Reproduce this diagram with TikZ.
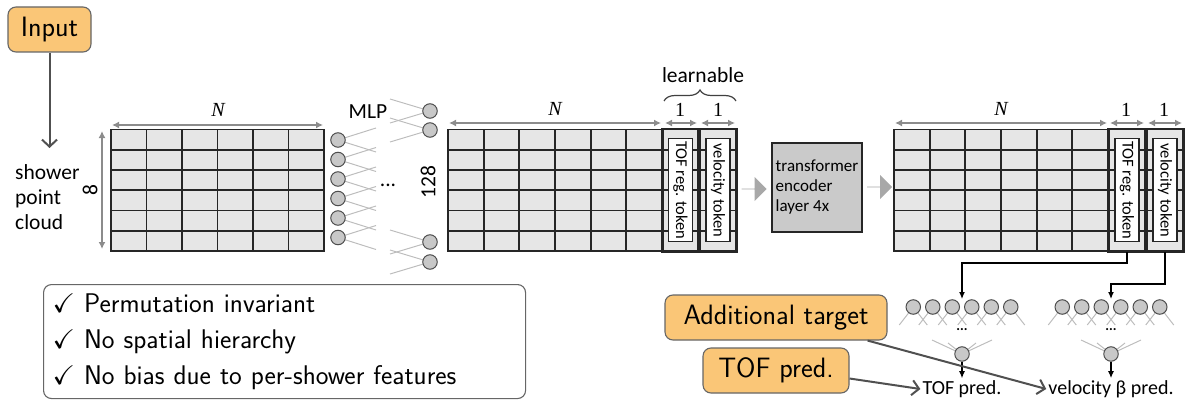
\documentclass[tikz,border=0pt]{standalone}
\usepackage{fontspec}
\usepackage{amssymb}
\usetikzlibrary{arrows.meta,decorations.pathreplacing,shapes.arrows,calc}
\newfontfamily\calib{Carlito}
\newfontfamily\cambr{Liberation Serif}
\definecolor{cellfill}{HTML}{E6E6E6}
\definecolor{cellline}{HTML}{262626}
\definecolor{dimgray}{HTML}{8C8C8C}
\definecolor{neuronfill}{HTML}{C8C8C8}
\definecolor{neuronline}{HTML}{4D4D4D}
\definecolor{wire}{HTML}{BDBDBD}
\definecolor{boxorange}{HTML}{FAC677}
\definecolor{boxedge}{HTML}{666666}
\definecolor{flowgray}{HTML}{A8A8A8}
\definecolor{encfill}{HTML}{CACACA}
\definecolor{darkwire}{HTML}{505050}

\tikzset{
  gridrule/.style={draw=cellline, line width=1.7},
  tokencell/.style={draw=cellline, fill=cellfill, line width=1.8, inner sep=0pt},
  toklabel/.style={draw=cellline, fill=white, line width=1.2, rotate=-90, inner sep=0pt,
    minimum width=103, minimum height=24, font=\calib\fontsize{16.5}{16.5}\selectfont},
  dimline/.style={draw=dimgray, line width=1.8, {Latex[length=7,width=7]}-{Latex[length=7,width=7]}},
  dimlabel/.style={font=\cambr\fontsize{20}{20}\selectfont},
  neuron/.style={circle, draw=neuronline, fill=neuronfill, line width=1, minimum size=14.5, inner sep=0pt},
  wireline/.style={draw=wire, line width=1},
  orangebox/.style={draw=boxedge, fill=boxorange, rounded corners=8, line width=1.1,
    font=\sffamily\fontsize{28}{28}\selectfont, inner sep=0pt},
  pointer/.style={draw=darkwire, line width=2, -{Straight Barb[length=7,width=15]}},
  tokwire/.style={draw=black, line width=1.2, -{Latex[length=7,width=6]}},
  flow/.style={single arrow, fill=flowgray, minimum height=25, minimum width=24,
    single arrow head extend=6, inner sep=0pt},
  smalltext/.style={font=\calib\fontsize{21.5}{25}\selectfont, inner sep=0pt},
  predtext/.style={font=\calib\fontsize{20}{20}\selectfont, inner sep=2pt},
}

\newcommand\tokencolumn[5]{%
  \node[tokencell, minimum width=#3, minimum height=121.5] (#1) at (#2,190.25) {};
  \foreach \r in {1,...,5}
    \draw[gridrule] ({#2-#3/2},{129.5+20.25*\r}) -- ({#2+#3/2},{129.5+20.25*\r});
  \draw[draw=cellline, line width=1.8] (#1.south west) rectangle (#1.north east);
  \node[toklabel] (#4) at (#1) {#5};
}

\begin{document}
\begin{tikzpicture}[x=1pt,y=-1pt]
\useasboundingbox (0,0) rectangle (1185,401);

% ---------- input ----------
\node[orangebox, minimum width=83, minimum height=45] (input) at (49.5,29.5) {Input};
\coordinate (cloudtop) at (49.5,148);
\draw[pointer] (input) -- (cloudtop);
\node[smalltext, anchor=west, align=left] (cloud) at (15,197) {shower\\point\\cloud};

% ---------- feature grids ----------
\foreach \gx/\gr in {111/324,448/662,894/1108} {
  \fill[cellfill] (\gx,129.5) rectangle (\gr,251);
  \foreach \r in {1,...,5}
    \draw[gridrule] (\gx,{129.5+20.25*\r}) -- (\gr,{129.5+20.25*\r});
  \foreach \c in {1,...,5}
    \draw[gridrule] ({\gx+(\gr-\gx)*\c/6},129.5) -- ({\gx+(\gr-\gx)*\c/6},251);
  \draw[gridrule] (\gx,129.5) rectangle (\gr,251);
}

% token columns
\tokencolumn{tokA}{680.5}{35}{tokAlab}{TOF reg. token}
\tokencolumn{velA}{718}{36}{velAlab}{velocity token}
\tokencolumn{tokB}{1127}{36}{tokBlab}{TOF reg. token}
\tokencolumn{velB}{1165}{36}{velBlab}{velocity token}

% dimensions
\draw[dimline] (112,125) -- (323,125);
\node[dimlabel] (nA) at (218,110) {\itshape N};
\draw[dimline] (102,131) -- (102,249);
\node[smalltext, rotate=90] (eight) at (90,190) {8};

\draw[dimline] (449,123) -- (661,123);
\node[dimlabel] (nB) at (555,109) {\itshape N};
\draw[dimline] (665,123) -- (697,123);
\draw[dimline] (701,123) -- (735,123);
\node[dimlabel] (oneA) at (680,110) {1};
\node[dimlabel] (oneB) at (718,110) {1};
\draw[decorate, decoration={brace, amplitude=11}, draw=black!75, line width=1.2]
  (664,101) -- (736,101);
\node[smalltext] (learn) at (703,75) {learnable};

\draw[dimline] (895,123) -- (1107,123);
\node[dimlabel] (nC) at (1001,109) {\itshape N};
\draw[dimline] (1110,123) -- (1144,123);
\draw[dimline] (1148,123) -- (1182,123);
\node[dimlabel] (oneC) at (1126,110) {1};
\node[dimlabel] (oneD) at (1164,110) {1};

% ---------- MLP ----------
\foreach \i/\y in {1/140,2/159.5,3/179,4/198.5,5/218,6/237.5} {
  \draw[wireline] (338,\y) -- (376,{\y-12});
  \draw[wireline] (338,\y) -- (376,{\y+12});
  \node[neuron] (l\i) at (338,\y) {};
}
\foreach \i/\y in {1/111,2/130,3/242,4/262} {
  \draw[wireline] (430,\y) -- (390,{\y-12});
  \draw[wireline] (430,\y) -- (390,{\y+12});
  \node[neuron] (r\i) at (430,\y) {};
}
\node[smalltext] (mlp) at (368,112) {MLP};
\node[smalltext] (mlpdots) at (388,185) {...};
\node[smalltext, rotate=90] (width) at (428,182) {128};

% ---------- transformer ----------
\node[flow] (flowA) at (754,189) {};
\node[draw=cellline, fill=encfill, line width=1.5, minimum width=90, minimum height=89,
  align=left, font=\calib\fontsize{17}{20}\selectfont, inner sep=0pt] (enc) at (817,187.5)
  {transformer\\encoder\\layer 4x};
\node[flow] (flowB) at (879.5,187) {};

% ---------- prediction heads ----------
\foreach \cx/\nm in {962/tof,1111/vel} {
  \foreach \k in {1,...,6} {
    \draw[wireline] ({\cx+19.5*(\k-3.5)},307) -- ({\cx+19.5*(\k-3.5)-14},325);
    \draw[wireline] ({\cx+19.5*(\k-3.5)},307) -- ({\cx+19.5*(\k-3.5)+14},325);
  }
  \foreach \k in {1,...,6}
    \node[neuron] (\nm\k) at ({\cx+19.5*(\k-3.5)},307) {};
  \foreach \dx/\dy in {-30/340,-14/343,14/343,30/340}
    \draw[wireline] ({\cx+\dx},\dy) -- (\cx,354);
  \node[neuron] (\nm out) at (\cx,354) {};
  \node[font=\calib\bfseries\fontsize{14}{14}\selectfont, inner sep=0pt] (\nm dots) at (\cx,330) {...};
}
\node[predtext] (toflabel) at (962,389) {TOF pred.};
\node[predtext] (vellabel) at (1111,389) {velocity β pred.};
\draw[tokwire] (tofout) -- (toflabel);
\draw[tokwire] (velout) -- (vellabel);

\coordinate (tofin) at (962,299);
\coordinate (velin) at (1111,299);
\draw[tokwire] (tokB.south) -- ++(0,11) -| (tofin);
\draw[tokwire] (velB.south) -- ++(0,32) -| (velin);

% ---------- targets ----------
\node[orangebox, minimum width=222, minimum height=45] (addt) at (776,317.5) {Additional target};
\node[orangebox, minimum width=146, minimum height=45] (tofbox) at (776,370.5) {TOF pred.};
\draw[pointer] ($(addt.south east)+(-20,0)$) -- (vellabel.west);
\draw[pointer] ($(tofbox.east)+(0,8)$) -- (toflabel.west);

% ---------- properties ----------
\node[draw=boxedge, rounded corners=8, line width=1.1, fill=white, anchor=north west,
  minimum width=482, minimum height=114, text width=464, inner xsep=9, align=left,
  font=\sffamily\fontsize{27}{36}\selectfont] (props) at (43,284)
  {$\checkmark$ Permutation invariant\\
   $\checkmark$ No spatial hierarchy\\
   $\checkmark$ No bias due to per-shower features};
\end{tikzpicture}
\end{document}
